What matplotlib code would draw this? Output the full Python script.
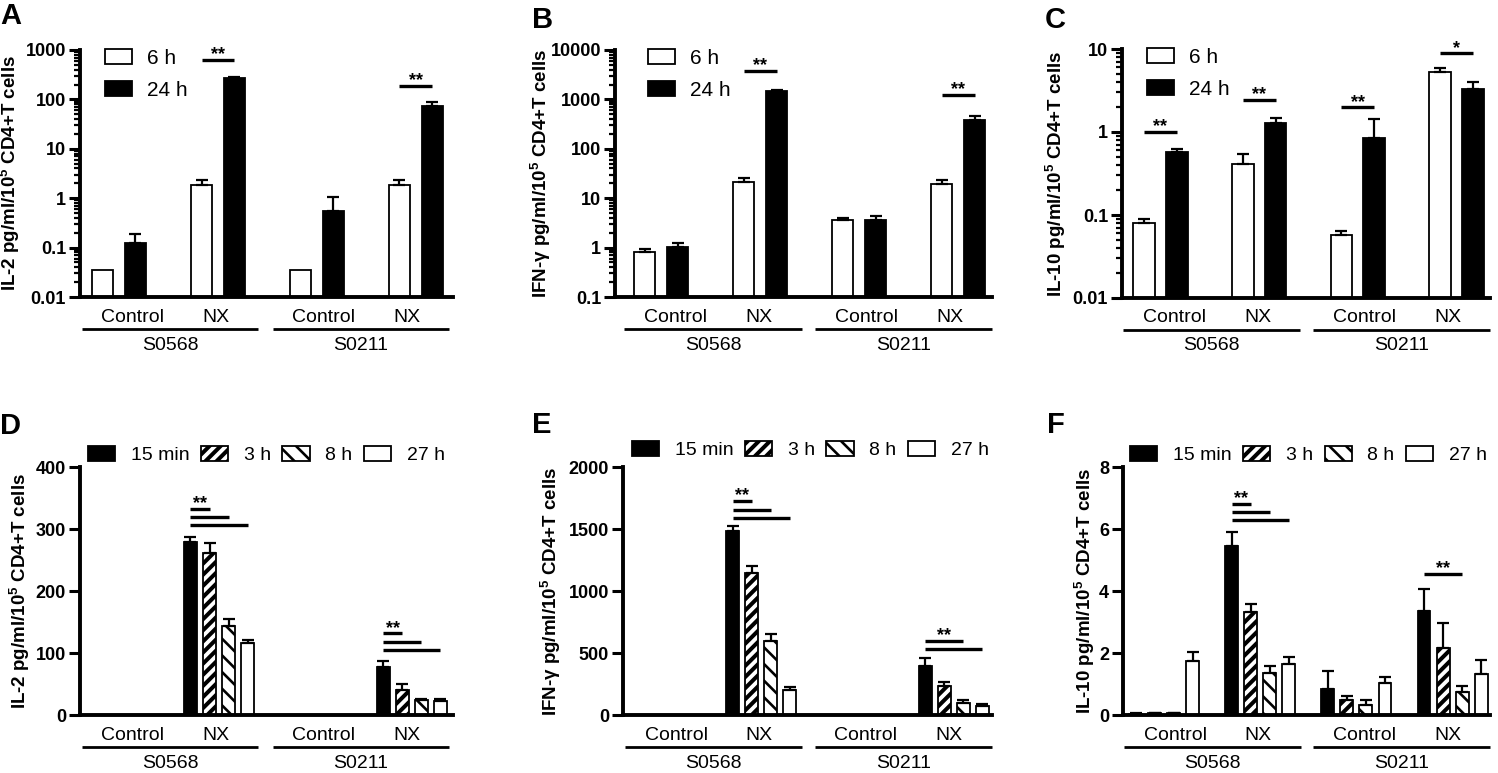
import matplotlib
matplotlib.use('Agg')
import matplotlib.pyplot as plt
import numpy as np

plt.rcParams['font.family'] = ['Liberation Sans', 'DejaVu Sans']
plt.rcParams['mathtext.fontset'] = 'custom'
plt.rcParams['mathtext.rm'] = 'Liberation Sans'
plt.rcParams['mathtext.bf'] = 'Liberation Sans:bold'
plt.rcParams['hatch.linewidth'] = 2.0

# ---- data ----
conds = ['Control', 'NX', 'Control', 'NX']
strains = ['S0568', 'S0211']
names_top = ['6 h', '24 h']
names_bot = ['15 min', '3 h', '8 h', '27 h']

# A: IL-2 (log)
il2_6h = [0.035, 1.85, 0.035, 1.85]
il2_6h_err = [0, 0.5, 0, 0.5]
il2_24h = [0.125, 265, 0.54, 75]
il2_24h_err = [0.065, 23, 0.54, 12]

# B: IFN-g (log)
ifn_6h = [0.81, 21.6, 3.7, 19.7]
ifn_6h_err = [0.11, 4.4, 0.3, 3.7]
ifn_24h = [1.02, 1480, 3.7, 386]
ifn_24h_err = [0.23, 70, 0.75, 79]

# C: IL-10 (log)
il10_6h = [0.079, 0.41, 0.058, 5.27]
il10_6h_err = [0.011, 0.14, 0.006, 0.57]
il10_24h = [0.57, 1.30, 0.85, 3.26]
il10_24h_err = [0.06, 0.16, 0.58, 0.77]

# D: IL-2 time course
il2_15m = [0, 279, 0, 78]
il2_15m_err = [0, 8, 0, 9.6]
il2_3h = [0, 262, 0, 41]
il2_3h_err = [0, 15.6, 0, 8.7]
il2_8h = [0, 144, 0, 24]
il2_8h_err = [0, 10.6, 0, 1.5]
il2_27h = [0, 116.5, 0, 23]
il2_27h_err = [0, 4.3, 0, 2.2]

# E: IFN-g time course
ifn_15m = [0, 1482, 0, 397]
ifn_15m_err = [0, 45, 0, 59]
ifn_3h = [0, 1149, 0, 236]
ifn_3h_err = [0, 51, 0, 32]
ifn_8h = [0, 599, 0, 94]
ifn_8h_err = [0, 51, 0, 27]
ifn_27h = [0, 201, 0, 75]
ifn_27h_err = [0, 22, 0, 14]

# F: IL-10 time course
il10_15m = [0.03, 5.45, 0.84, 3.35]
il10_15m_err = [0.02, 0.45, 0.59, 0.72]
il10_3h = [0.05, 3.32, 0.5, 2.15]
il10_3h_err = [0.02, 0.26, 0.11, 0.83]
il10_8h = [0.05, 1.34, 0.32, 0.75]
il10_8h_err = [0.02, 0.25, 0.16, 0.18]
il10_27h = [1.75, 1.66, 1.04, 1.32]
il10_27h_err = [0.28, 0.2, 0.2, 0.47]

# significance: (group, series i, series j, y, label)
sig_A = [(1, 0, 1, 620, '**'), (3, 0, 1, 190, '**')]
sig_B = [(1, 0, 1, 3830, '**'), (3, 0, 1, 1250, '**')]
sig_C = [(0, 0, 1, 1.0, '**'), (1, 0, 1, 2.42, '**'), (2, 0, 1, 1.98, '**'), (3, 0, 1, 8.85, '*')]
sig_D = [(1, 0, 1, 333, '**'), (1, 0, 2, 319.5, ''), (1, 0, 3, 306, ''),
         (3, 0, 1, 131.5, '**'), (3, 0, 2, 118, ''), (3, 0, 3, 104.7, '')]
sig_E = [(1, 0, 1, 1726, '**'), (1, 0, 2, 1651, ''), (1, 0, 3, 1589, ''),
         (3, 0, 2, 599, '**'), (3, 0, 3, 531, '')]
sig_F = [(1, 0, 1, 6.82, '**'), (1, 0, 2, 6.54, ''), (1, 0, 3, 6.30, ''),
         (3, 0, 2, 4.54, '**')]

sty_top = [dict(fc='white', hatch=None, hlw=1), dict(fc='black', hatch=None, hlw=1)]
sty_bot = [dict(fc='black', hatch=None, hlw=1), dict(fc='white', hatch='///', hlw=2.9),
           dict(fc='white', hatch='\\\\', hlw=1.9), dict(fc='white', hatch=None, hlw=1)]

W, H = 1498, 773
fig = plt.figure(figsize=(W / 100, H / 100), dpi=100)


def px_axes(l, t, r, b):
    return fig.add_axes([l / W, 1 - b / H, (r - l) / W, (b - t) / H])


def panel(ax, xlim, series, errs, names, styles, width, step, log, ylim, yticks,
          ylabel, ylab_x, sigs, spans, leg_anchor, ncol):
    pos = np.arange(len(conds))
    n = len(series)
    offs = (np.arange(n) - (n - 1) / 2) * step
    if log:
        ax.set_yscale('log')
    for vals, err, name, st, o in zip(series, errs, names, styles, offs):
        bars = ax.bar(pos + o, vals, width, facecolor=st['fc'], edgecolor='black',
                      linewidth=1.3, hatch=st['hatch'], label=name, zorder=2)
        if hasattr(bars.patches[0], 'set_hatch_linewidth'):
            for p in bars.patches:
                p.set_hatch_linewidth(st['hlw'])
        v = np.array(vals, float)
        e = np.array(err, float)
        m = e > 0
        ax.errorbar((pos + o)[m], v[m], yerr=[np.zeros(m.sum()), e[m]], fmt='none',
                    ecolor='black', elinewidth=1.6, capsize=4.5, capthick=1.6, zorder=3)
    for g, i, j, y, s in sigs:
        x1, x2 = g + offs[i], g + offs[j]
        ax.plot([x1, x2], [y, y], color='black', lw=2.4, solid_capstyle='butt',
                clip_on=False, zorder=4)
        if s:
            ax.annotate(s, xy=((x1 + x2) / 2, y), xytext=(0, 0.5), textcoords='offset points',
                        ha='center', va='baseline', fontsize=13, fontweight='bold',
                        annotation_clip=False)
    ax.set_xlim(*xlim)
    ax.set_ylim(*ylim)
    ax.set_xticks([])
    ax.set_yticks(yticks, [('%g' % t) for t in yticks], fontweight='bold', fontsize=13)
    if log:
        ax.yaxis.set_minor_formatter(matplotlib.ticker.NullFormatter())
    ax.tick_params(axis='y', which='major', length=8, width=2.2, pad=2)
    ax.tick_params(axis='y', which='minor', length=4.5, width=1.6)
    for sp in ['top', 'right']:
        ax.spines[sp].set_visible(False)
    for sp in ['left', 'bottom']:
        ax.spines[sp].set_linewidth(2.8)
    ax.set_ylabel(ylabel, fontsize=13.5, fontweight='bold')
    ax.yaxis.set_label_coords(ylab_x, 0.5)
    hpx = ax.get_position().height * H
    for k, (a, b) in enumerate(spans):
        ax.plot([a, b], [-32 / hpx] * 2, transform=ax.transAxes, color='black', lw=2,
                clip_on=False, solid_capstyle='butt')
        ax.text(a + 0.29 * (b - a), -20 / hpx, conds[2 * k], transform=ax.transAxes,
                ha='center', va='center', fontsize=14)
        ax.text(a + 0.76 * (b - a), -20 / hpx, conds[2 * k + 1], transform=ax.transAxes,
                ha='center', va='center', fontsize=14)
        ax.text((a + b) / 2, -48 / hpx, strains[k], transform=ax.transAxes,
                ha='center', va='center', fontsize=14)
    h, l = ax.get_legend_handles_labels()
    if ncol == 1:
        leg = ax.legend(h, l, loc='upper left', bbox_to_anchor=leg_anchor, frameon=False,
                        fontsize=15, borderpad=0, borderaxespad=0, handlelength=1.3,
                        handleheight=0.75, handletextpad=0.7, labelspacing=0.62)
    else:
        leg = ax.legend(h, l, loc='center left', bbox_to_anchor=leg_anchor, frameon=False,
                        fontsize=14, ncol=ncol, borderpad=0, borderaxespad=0, handlelength=1.4,
                        handleheight=0.8, handletextpad=0.8, columnspacing=0.6)
    for hd, st in zip(leg.legend_handles, styles):
        if hasattr(hd, 'set_hatch_linewidth'):
            hd.set_hatch_linewidth(st['hlw'])


top_w, top_s = 0.22, 0.333
bot_w, bot_s = 0.135, 0.198
lab5 = r'pg/ml/10$^{\mathbf{5}}$ CD4+T cells'

axA = px_axes(80, 50, 453, 297)
panel(axA, (-0.394, 3.374), [il2_6h, il2_24h], [il2_6h_err, il2_24h_err], names_top, sty_top,
      top_w, top_s, True, (0.01, 1000), [0.01, 0.1, 1, 10, 100, 1000], 'IL-2 ' + lab5, -0.155,
      sig_A, [(0.005, 0.477), (0.517, 0.989)], (0.067, 1.005), 1)

axB = px_axes(615, 50, 992, 297)
panel(axB, (-0.465, 3.343), [ifn_6h, ifn_24h], [ifn_6h_err, ifn_24h_err], names_top, sty_top,
      top_w, top_s, True, (0.1, 10000), [0.1, 1, 10, 100, 1000, 10000], 'IFN-γ ' + lab5, -0.164,
      sig_B, [(0.024, 0.496), (0.53, 1.0)], (0.088, 1.005), 1)

axC = px_axes(1122, 49, 1490, 298)
panel(axC, (-0.39, 3.34), [il10_6h, il10_24h], [il10_6h_err, il10_24h_err], names_top, sty_top,
      top_w, top_s, True, (0.01, 10), [0.01, 0.1, 1, 10], 'IL-10 ' + lab5, -0.147,
      sig_C, [(0.003, 0.484), (0.519, 1.0)], (0.068, 1.005), 1)

axD = px_axes(80, 467, 453, 715)
panel(axD, (-0.444, 3.43), [il2_15m, il2_3h, il2_8h, il2_27h],
      [il2_15m_err, il2_3h_err, il2_8h_err, il2_27h_err], names_bot, sty_bot,
      bot_w, bot_s, False, (0, 400), [0, 100, 200, 300, 400], 'IL-2 ' + lab5, -0.129,
      sig_D, [(0.005, 0.477), (0.517, 0.989)], (0.021, 1.048), 4)

axE = px_axes(623, 467, 992, 715)
panel(axE, (-0.44, 3.40), [ifn_15m, ifn_3h, ifn_8h, ifn_27h],
      [ifn_15m_err, ifn_3h_err, ifn_8h_err, ifn_27h_err], names_bot, sty_bot,
      bot_w, bot_s, False, (0, 2000), [0, 500, 1000, 1500, 2000], 'IFN-γ ' + lab5, -0.163,
      sig_E, [(0.005, 0.484), (0.519, 1.0)], (0.024, 1.069), 4)

axF = px_axes(1123, 467, 1490, 715)
panel(axF, (-0.43, 3.39), [il10_15m, il10_3h, il10_8h, il10_27h],
      [il10_15m_err, il10_3h_err, il10_8h_err, il10_27h_err], names_bot, sty_bot,
      bot_w, bot_s, False, (0, 8), [0, 2, 4, 6, 8], 'IL-10 ' + lab5, -0.071,
      sig_F, [(0.003, 0.484), (0.519, 1.0)], (0.019, 1.048), 4)

for letter, x, y in [('A', 0, 2), ('B', 532, 6), ('C', 1045, 6),
                     ('D', 0, 412), ('E', 532, 411), ('F', 1047, 411)]:
    fig.text(x / W, 1 - y / H, letter, fontsize=21, fontweight='bold', ha='left', va='top')

fig.savefig('out.png', dpi=100)
